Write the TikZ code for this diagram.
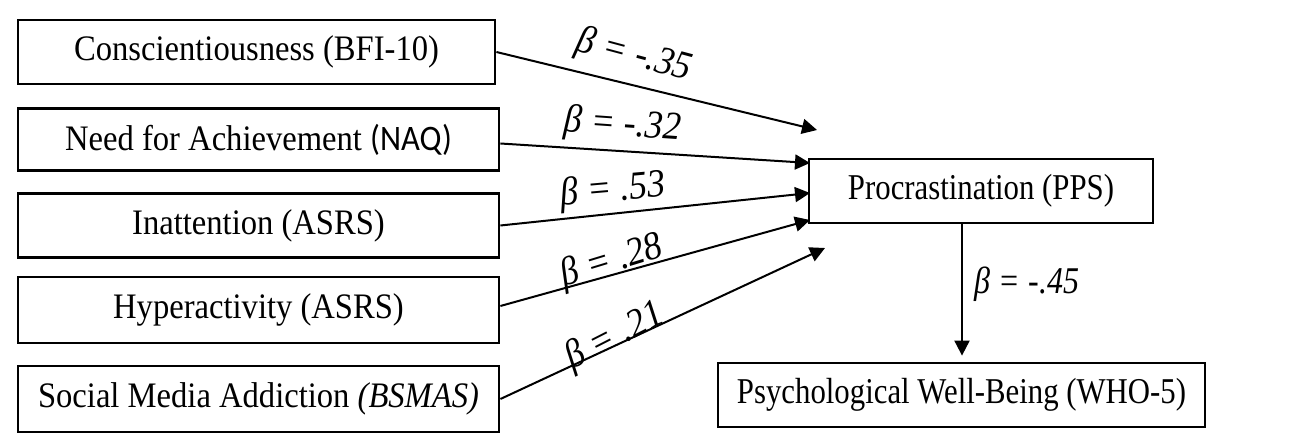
\documentclass[tikz,border=0pt]{standalone}
\usepackage{fontspec}
\usepackage{graphicx}
\setmainfont{Liberation Serif}
\newfontfamily\calibri{Carlito}
\usetikzlibrary{arrows.meta,calc}
\newcommand{\tl}[1]{\scalebox{1}[1.1]{#1}}
\newcommand{\tr}[1]{\scalebox{1}[1.18]{#1}}
\begin{document}
\begin{tikzpicture}[x=0.5pt,y=-0.5pt,
 box/.style={draw,line width=1.4pt,inner sep=0pt,minimum height=32pt,font=\fontsize{16.3}{19}\selectfont},
 rbox/.style={box,font=\fontsize{15.4}{18}\selectfont},
 arr/.style={line width=1pt,-{Triangle[length=7.5pt,width=7.5pt]}},
 lab/.style={font=\fontsize{18}{20}\selectfont\itshape,inner sep=0pt},
 labs/.style={font=\fontsize{16}{19}\selectfont\itshape,inner sep=0pt}]
\useasboundingbox (0,0) rectangle (1299,448);
\node[box,minimum width=238.5pt] (b1) at (256.5,52) {\tl{Conscientiousness (BFI-10)}};
\node[box,minimum width=240.5pt,minimum height=31pt] (b2) at (258.5,139.5) {\tl{Need for Achievement {\calibri(NAQ)}}};
\node[box,minimum width=240.5pt] (b3) at (258.5,225.5) {\tl{Inattention (ASRS)}};
\node[box,minimum width=240.5pt,minimum height=33pt] (b4) at (258.5,310) {\tl{Hyperactivity (ASRS)}};
\node[box,minimum width=240.5pt,minimum height=33pt] (b5) at (258.5,399) {\tl{Social Media Addiction \textit{(BSMAS)}}};
\node[rbox,minimum width=172pt] (p) at (981,191) {\tr{Procrastination (PPS)}};
\node[rbox,minimum width=243.5pt] (w) at (961.5,395) {\tr{Psychological Well-Being (WHO-5)}};
\coordinate (e1) at (817,130);
\coordinate (e2) at (810,163);
\coordinate (e3) at (810,193);
\coordinate (e4) at (810,220);
\coordinate (e5) at (825,248);
\coordinate (vx) at (962,0);
\draw[arr] (b1.east) -- (e1);
\draw[arr] ([yshift=-2pt]b2.east) -- (e2);
\draw[arr] (b3.east) -- (e3);
\draw[arr] ([yshift=2pt]b4.east) -- (e4);
\draw[arr] (b5.east) -- (e5);
\draw[arr,shorten >=3pt] (p.south -| vx) -- (w.north -| vx);
\node[lab,rotate=-15] (l1) at (634,56) {\tl{β = -.35}};
\node[lab,rotate=-4] (l2) at (623,126) {\tl{β = -.32}};
\node[lab,rotate=5] (l3) at (613,191) {\tl{β = .53}};
\node[lab,rotate=17] (l4) at (612,262) {\tl{β = .28}};
\node[lab,rotate=27] (l5) at (615,337) {\tl{β = .21}};
\node[labs] (l6) at (1027,284) {\tr{β = -.45}};
\end{tikzpicture}
\end{document}
